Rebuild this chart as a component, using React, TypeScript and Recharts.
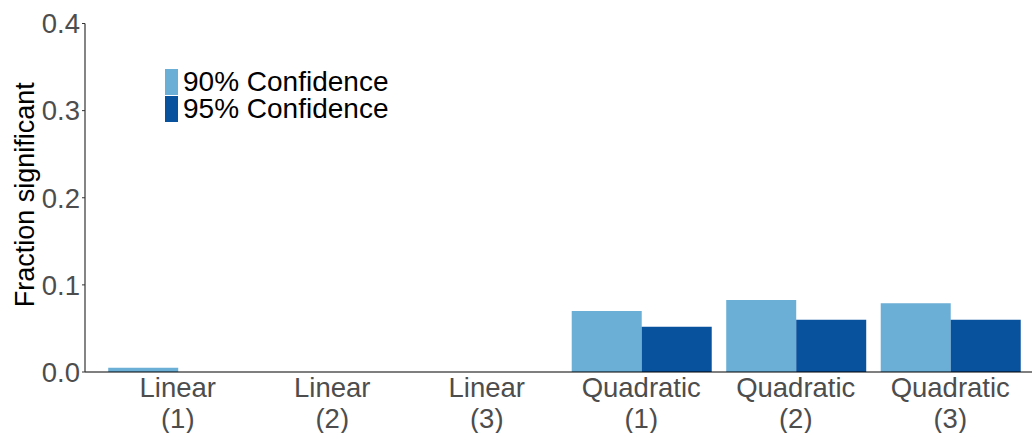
import { BarChart, Bar, XAxis, YAxis, Legend } from 'recharts';

const categories = ['Linear (1)', 'Linear (2)', 'Linear (3)', 'Quadratic (1)', 'Quadratic (2)', 'Quadratic (3)'];
const conf90 = [0.005, 0, 0, 0.07, 0.0825, 0.079];
const conf95 = [0, 0, 0, 0.052, 0.06, 0.06];
const yTicks = [0, 0.1, 0.2, 0.3, 0.4];

const series = [
  { key: 'c90', name: '90% Confidence', color: '#6baed6' },
  { key: 'c95', name: '95% Confidence', color: '#08519c' },
];

const data = categories.map((c, i) => ({ name: c, c90: conf90[i], c95: conf95[i] }));

const FONT = '"Liberation Sans", Arial, sans-serif';

const CategoryTick = ({ x, y, payload }: any) => {
  const lines = String(payload.value).split(' ');
  return (
    <text x={x} y={y} textAnchor="middle" fill="#4d4d4d" fontSize={27.5} fontFamily={FONT}>
      {lines.map((l, i) => (
        <tspan key={i} x={x} dy={i === 0 ? 17 : 31}>{l}</tspan>
      ))}
    </text>
  );
};

// legend rows sit tight together like the original
const LegendBox = () => (
  <div style={{ fontFamily: FONT, fontSize: 28, color: '#000' }}>
    {series.map((s) => (
      <div key={s.key} style={{ display: 'flex', alignItems: 'center', height: 26, marginBottom: 1 }}>
        <div style={{ width: 13, height: 26, background: s.color, marginRight: 5 }} />
        <div style={{ lineHeight: '26px', height: 26, whiteSpace: 'nowrap' }}>{s.name}</div>
      </div>
    ))}
  </div>
);

export default function App() {
  return (
    <div style={{ position: 'absolute', left: 0, top: 0, width: 1032, height: 433, background: '#fff' }}>
      <BarChart
        width={1032}
        height={433}
        data={data}
        margin={{ top: 23.5, right: 0, left: 0, bottom: 0 }}
        barCategoryGap="5%"
        barGap={0}
      >
        <XAxis
          dataKey="name"
          height={61}
          tick={<CategoryTick />}
          tickLine={false}
          axisLine={{ stroke: '#000', strokeWidth: 1.2 }}
          padding={{ left: 15.5, right: 4.5 }}
          interval={0}
        />
        <YAxis
          width={85}
          domain={[0, 0.4]}
          ticks={yTicks}
          tickFormatter={(v: number) => v.toFixed(1)}
          tick={{ fill: '#4d4d4d', fontSize: 27.5, fontFamily: FONT }}
          tickSize={3}
          tickMargin={2}
          tickLine={{ stroke: '#333' }}
          axisLine={{ stroke: '#333', strokeWidth: 1.2 }}
          label={{
            value: 'Fraction significant',
            angle: -90,
            position: 'insideLeft',
            dx: 19,
            dy: -3,
            style: { fill: '#000', fontSize: 27, fontFamily: FONT, textAnchor: 'middle' },
          }}
        />
        <Legend
          layout="vertical"
          align="center"
          verticalAlign="middle"
          content={<LegendBox />}
          wrapperStyle={{ left: 165, top: 69, width: 'auto', height: 'auto' }}
        />
        {series.map((s) => (
          <Bar key={s.key} dataKey={s.key} name={s.name} fill={s.color} isAnimationActive={false} />
        ))}
      </BarChart>
    </div>
  );
}
